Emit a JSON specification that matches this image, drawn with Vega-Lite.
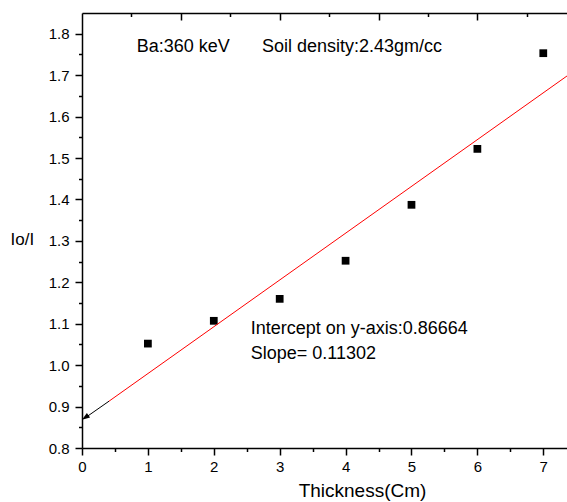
{
  "$schema": "https://vega.github.io/schema/vega-lite/v6.json",
  "width": 485,
  "height": 435,
  "autosize": {"type": "none"},
  "padding": {"left": 82, "top": 13, "right": 0, "bottom": 54},
  "background": "white",
  "config": {
    "view": {"stroke": null},
    "font": "Liberation Sans",
    "axis": {"labelFont": "Liberation Sans", "titleFont": "Liberation Sans", "labelColor": "black", "titleColor": "black", "domainColor": "black", "tickColor": "black", "grid": false, "titleFontWeight": "normal"}
  },
  "datasets": {
    "points": [
      {"t": 1, "r": 1.052},
      {"t": 2, "r": 1.107},
      {"t": 3, "r": 1.160},
      {"t": 4, "r": 1.252},
      {"t": 5, "r": 1.387},
      {"t": 6, "r": 1.522},
      {"t": 7, "r": 1.753}
    ],
    "fit": [
      {"t": 0.41, "r": 0.913},
      {"t": 7.36, "r": 1.698}
    ],
    "arrow": [
      {"t": 0.41, "r": 0.913},
      {"t": 0.05, "r": 0.873}
    ],
    "head": [
      {"t": 0.0, "r": 0.868}
    ],
    "labels": [
      {"t": 0.83, "r": 1.757, "txt": "Ba:360 keV"},
      {"t": 2.73, "r": 1.757, "txt": "Soil density:2.43gm/cc"},
      {"t": 2.56, "r": 1.074, "txt": "Intercept on y-axis:0.86664"},
      {"t": 2.56, "r": 1.014, "txt": "Slope= 0.11302"}
    ]
  },
  "resolve": {"axis": {"x": "independent", "y": "independent"}},
  "layer": [
    {
      "data": {"name": "points"},
      "mark": {"type": "point", "shape": "square", "filled": true, "color": "black", "size": 60, "opacity": 1},
      "encoding": {
        "x": {
          "field": "t", "type": "quantitative",
          "scale": {"domain": [0, 7.36], "nice": false, "zero": false},
          "axis": {
            "orient": "bottom",
            "title": "Thickness(Cm)",
            "titleFontSize": 19,
            "titleX": 280,
            "titleY": 48,
            "titleAlign": "center",
            "titleBaseline": "alphabetic",
            "values": [0, 0.5, 1, 1.5, 2, 2.5, 3, 3.5, 4, 4.5, 5, 5.5, 6, 6.5, 7],
            "labelExpr": "datum.value % 1 === 0 ? format(datum.value, 'd') : ''",
            "labelFontSize": {"condition": {"test": "datum.value % 1 !== 0", "value": 15}, "value": 15},
            "labelPadding": 4,
            "tickSize": {"condition": {"test": "datum.value % 1 !== 0", "value": 3.5}, "value": 7},
            "tickWidth": 1.5,
            "domainWidth": 1.5,
            "labelFlush": false
          }
        },
        "y": {
          "field": "r", "type": "quantitative",
          "scale": {"domain": [0.8, 1.85], "nice": false, "zero": false},
          "axis": {
            "orient": "left",
            "title": "Io/I",
            "titleFontSize": 17,
            "titleAngle": 0,
            "titleX": -72,
            "titleY": 231,
            "titleAlign": "left",
            "titleBaseline": "alphabetic",
            "values": [0.8, 0.85, 0.9, 0.95, 1.0, 1.05, 1.1, 1.15, 1.2, 1.25, 1.3, 1.35, 1.4, 1.45, 1.5, 1.55, 1.6, 1.65, 1.7, 1.75, 1.8],
            "labelExpr": "round(datum.value * 20) % 2 === 1 ? '' : format(datum.value, '.1f')",
            "labelFontSize": {"condition": {"test": "round(datum.value * 20) % 2 === 1", "value": 15}, "value": 15},
            "labelPadding": 6,
            "tickSize": {"condition": {"test": "round(datum.value * 20) % 2 === 1", "value": 3.5}, "value": 7},
            "tickWidth": 1.5,
            "domainWidth": 1.5,
            "labelFlush": false
          }
        }
      }
    },
    {
      "data": {"name": "fit"},
      "mark": {"type": "line", "color": "#ff0000", "strokeWidth": 1},
      "encoding": {
        "x": {
          "field": "t", "type": "quantitative",
          "axis": {
            "orient": "top",
            "title": null,
            "labels": false,
            "values": [0.75, 1.5, 2.25, 3, 3.75, 4.5, 5.25, 6, 6.75],
            "tickSize": {"condition": {"test": "round(datum.value / 0.75) % 2 === 1", "value": -3.5}, "value": -7},
            "tickWidth": 1.5,
            "domainWidth": 1.5
          }
        },
        "y": {"field": "r", "type": "quantitative", "axis": null}
      }
    },
    {
      "data": {"name": "arrow"},
      "mark": {"type": "line", "color": "black", "strokeWidth": 1},
      "encoding": {
        "x": {"field": "t", "type": "quantitative", "axis": null},
        "y": {"field": "r", "type": "quantitative", "axis": null}
      }
    },
    {
      "data": {"name": "head"},
      "mark": {"type": "point", "shape": "M0,0L-0.35,1L0.35,1Z", "filled": true, "color": "black", "size": 250, "angle": 235, "opacity": 1},
      "encoding": {
        "x": {"field": "t", "type": "quantitative", "axis": null},
        "y": {"field": "r", "type": "quantitative", "axis": null}
      }
    },
    {
      "data": {"name": "labels"},
      "mark": {"type": "text", "align": "left", "baseline": "alphabetic", "fontSize": 18, "color": "black", "font": "Liberation Sans"},
      "encoding": {
        "x": {"field": "t", "type": "quantitative", "axis": null},
        "y": {"field": "r", "type": "quantitative", "axis": null},
        "text": {"field": "txt"}
      }
    }
  ]
}
